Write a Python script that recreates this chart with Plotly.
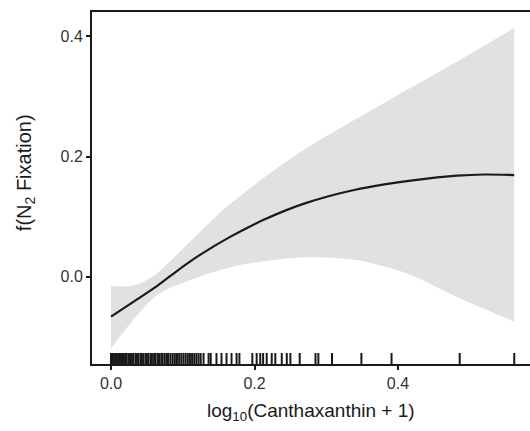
import plotly.graph_objects as go

# Smooth fit
fit_x = [0.0, 0.03, 0.064, 0.095, 0.124, 0.166, 0.212, 0.268, 0.342, 0.426, 0.482, 0.52, 0.562]
fit_y = [-0.067, -0.043, -0.016, 0.012, 0.036, 0.066, 0.094, 0.121, 0.145, 0.161, 0.168, 0.170, 0.169]

# Confidence band
up_x = [0.0, 0.026, 0.045, 0.064, 0.110, 0.156, 0.208, 0.27, 0.389, 0.482, 0.562]
up_y = [-0.016, -0.016, -0.009, 0.005, 0.058, 0.111, 0.160, 0.212, 0.295, 0.358, 0.414]
lo_x = [0.0, 0.031, 0.064, 0.110, 0.180, 0.268, 0.342, 0.412, 0.482, 0.562]
lo_y = [-0.120, -0.0725, -0.031, -0.006, 0.019, 0.032, 0.0275, 0.0053, -0.034, -0.075]

# Rug observations
rug_x = [0.000, 0.002, 0.004, 0.006, 0.008, 0.010, 0.012, 0.014, 0.016, 0.018,
         0.020, 0.022, 0.025, 0.027, 0.029, 0.031, 0.034, 0.036, 0.038, 0.041,
         0.043, 0.045, 0.048, 0.050, 0.052, 0.055, 0.057, 0.060, 0.062, 0.065,
         0.067, 0.070, 0.072, 0.075, 0.078, 0.080, 0.083, 0.086, 0.089, 0.092,
         0.095, 0.098, 0.101, 0.104, 0.107, 0.110, 0.113, 0.116, 0.119, 0.122,
         0.125, 0.129, 0.136, 0.139, 0.147, 0.154, 0.161, 0.168, 0.175,
         0.179, 0.197, 0.203, 0.208, 0.212, 0.217, 0.224, 0.229, 0.238, 0.245,
         0.250, 0.263, 0.285, 0.289, 0.308, 0.349, 0.391, 0.486, 0.562]

x_ticks = [0.0, 0.2, 0.4]
y_ticks = [0.0, 0.2, 0.4]
x_range = [-0.0265, 0.584]
y_range = [-0.1458, 0.4408]
rug_top = -0.1275

fig = go.Figure()

fig.add_trace(go.Scatter(x=lo_x, y=lo_y, mode="lines",
                         line=dict(width=0, color="#E0E1E3", shape="spline", smoothing=0.8),
                         hoverinfo="skip", showlegend=False))
fig.add_trace(go.Scatter(x=up_x, y=up_y, mode="lines", fill="tonexty", fillcolor="#E0E1E3",
                         line=dict(width=0, color="#E0E1E3", shape="spline", smoothing=0.7),
                         hoverinfo="skip", showlegend=False))

fig.add_trace(go.Scatter(x=fit_x, y=fit_y, mode="lines",
                         line=dict(color="#1a1a1a", width=2.2, shape="spline", smoothing=0.8),
                         showlegend=False))

rx, ry = [], []
for v in rug_x:
    rx += [v, v, None]
    ry += [y_range[0], rug_top, None]
fig.add_trace(go.Scatter(x=rx, y=ry, mode="lines", line=dict(color="#1a1a1a", width=2),
                         hoverinfo="skip", showlegend=False))

fam = "Liberation Sans, Arial, sans-serif"
axis_font = dict(family=fam, size=16, color="#333333")
fig.update_layout(
    width=530, height=431,
    margin=dict(l=92, r=0, t=12, b=67),
    plot_bgcolor="white", paper_bgcolor="white",
    xaxis=dict(range=x_range, tickvals=x_ticks, ticktext=["0.0", "0.2", "0.4"],
               showgrid=False, zeroline=False, showline=True, mirror=True,
               linecolor="#1a1a1a", linewidth=2, ticks="outside", ticklen=4,
               tickwidth=1.5, tickcolor="#1a1a1a", tickfont=axis_font),
    yaxis=dict(range=y_range, tickvals=y_ticks, ticktext=["0.0", "0.2", "0.4"],
               showgrid=False, zeroline=False, showline=True,
               linecolor="#1a1a1a", linewidth=2, ticks="outside", ticklen=4,
               tickwidth=1.5, tickcolor="#1a1a1a", tickfont=axis_font),
    annotations=[
        dict(text="log<sub>10</sub>(Canthaxanthin + 1)", xref="paper", yref="paper",
             x=0.5, y=-0.097, yanchor="top", xanchor="center", showarrow=False,
             font=dict(family=fam, size=19, color="#1a1a1a")),
        dict(text="f(N<sub>2</sub> Fixation)", xref="paper", yref="paper",
             x=-0.153, y=0.545, xanchor="center", yanchor="middle", textangle=-90,
             showarrow=False, font=dict(family=fam, size=20, color="#1a1a1a")),
    ],
)

fig.write_html("out.html", config={"displayModeBar": False},
               post_script="document.body.style.margin='0';document.body.style.overflow='hidden';")
